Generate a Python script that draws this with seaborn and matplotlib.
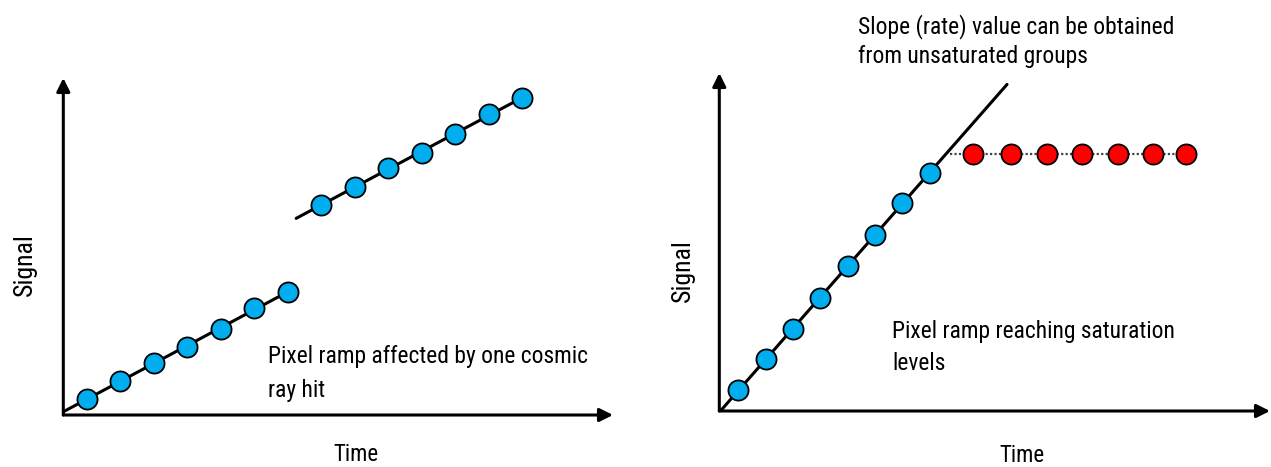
import numpy as np
import pandas as pd
import matplotlib
matplotlib.use('Agg')
import matplotlib.pyplot as plt
from matplotlib import font_manager
import seaborn as sns

# --- data (arbitrary units: time in read groups, signal in counts) ---
# left panel: ramp with a cosmic-ray jump between group 7 and 8
cr_time_before = [1, 2, 3, 4, 5, 6, 7]
cr_signal_before = [16, 34, 52, 68, 86, 107, 123]
cr_time_after = [8, 9, 10, 11, 12, 13, 14]
cr_signal_after = [210, 228, 247, 262, 281, 301, 317]

# right panel: ramp that saturates
sat_time_good = [1, 2, 3, 4, 5, 6, 7, 8]
sat_signal_good = [21, 52, 82, 113, 145, 176, 208, 238]
sat_time_bad = [9.6, 11.0, 12.3, 13.6, 14.9, 16.2, 17.4]
sat_signal_bad = [257, 257, 257, 257, 257, 257, 257]

lines_cr = ['Pixel ramp affected by one cosmic', 'ray hit']
lines_sat = ['Pixel ramp reaching saturation', 'levels']
lines_slope = ['Slope (rate) value can be obtained', 'from unsaturated groups']

BLUE = '#00aeef'
RED = '#ff0000'

sns.set_theme(style='white')

# pick a narrow sans if there is one, the original uses a condensed face
names = sorted({f.name for f in font_manager.fontManager.ttflist})
family, stretch = None, 'normal'
for cand in ['Liberation Sans Narrow', 'Roboto Condensed', 'Open Sans Condensed',
             'Noto Sans Condensed', 'DejaVu Sans Condensed']:
    if cand in names:
        family = cand
        break
if family is None:
    narrow = [n for n in names if ('Condensed' in n or 'Narrow' in n) and 'Mono' not in n
              and 'Serif' not in n and 'CJK' not in n]
    if narrow:
        family = narrow[0]
if family is None:
    cond = [f for f in font_manager.fontManager.ttflist
            if 'condensed' in str(f.stretch).lower() and 'Mono' not in f.name
            and 'Serif' not in f.name and f.weight in (400, 'normal', 'regular')]
    if cond:
        family, stretch = cond[0].name, 'condensed'
if family is None:
    family = 'Roboto'
plt.rcParams['font.family'] = [family, 'DejaVu Sans']
plt.rcParams['font.stretch'] = stretch

W, H = 1271, 467
fig = plt.figure(figsize=(W / 100, H / 100), dpi=100)


def px_axes(x0, y0, x1, y1):
    return fig.add_axes([x0 / W, 1 - y0 / H, (x1 - x0) / W, (y0 - y1) / H])


def fx(px):
    return px / W


def fy(py):
    return 1 - py / H


def draw_arrows(ax):
    for spine in ax.spines.values():
        spine.set_visible(False)
    ax.set_xticks([])
    ax.set_yticks([])
    ax.set_xlabel('')
    ax.set_ylabel('')
    kw = dict(arrowstyle='-|>', lw=2.2, color='black', mutation_scale=20,
              shrinkA=0, shrinkB=0)
    ax.annotate('', xy=(1, 0), xytext=(0, 0), xycoords='axes fraction',
                arrowprops=kw, annotation_clip=False)
    ax.annotate('', xy=(0, 1), xytext=(0, 0), xycoords='axes fraction',
                arrowprops=kw, annotation_clip=False)


def fit_line(t, s, t_from, t_to):
    k, b = np.polyfit(t, s, 1)
    tt = np.array([t_from, t_to])
    return pd.DataFrame({'time': tt, 'signal': k * tt + b})


def dots(ax, t, s, color):
    df = pd.DataFrame({'time': t, 'signal': s})
    sns.scatterplot(data=df, x='time', y='signal', ax=ax, s=210, color=color,
                    edgecolor='black', linewidth=1.3, zorder=5, clip_on=False)


# ---------------- left panel ----------------
ax1 = px_axes(63.3, 415, 613, 78)
ax1.set_xlim(0.3, 0.3 + (613 - 63.3) / 33.5)
ax1.set_ylim(0, 337)

seg = fit_line(cr_time_before, cr_signal_before, 0.3, 7)
sns.lineplot(data=seg, x='time', y='signal', ax=ax1, color='black', lw=2.2, sort=False)
seg = fit_line(cr_time_after, cr_signal_after, 7.25, 14)
sns.lineplot(data=seg, x='time', y='signal', ax=ax1, color='black', lw=2.2, sort=False)
dots(ax1, cr_time_before, cr_signal_before, BLUE)
dots(ax1, cr_time_after, cr_signal_after, BLUE)
draw_arrows(ax1)

# ---------------- right panel ----------------
ax2 = px_axes(719.3, 411, 1270, 73)
ax2.set_xlim(0.3, 0.3 + (1270 - 719.3) / 27.3)
ax2.set_ylim(0, 338)

seg = fit_line(sat_time_good, sat_signal_good, 0.3, 10.84)
sns.lineplot(data=seg, x='time', y='signal', ax=ax2, color='black', lw=2.2, sort=False)
flat = pd.DataFrame({'time': [8.75] + sat_time_bad,
                     'signal': [sat_signal_bad[0]] + sat_signal_bad})
sns.lineplot(data=flat, x='time', y='signal', ax=ax2, color='#444444', lw=1.6,
             linestyle=(0, (1, 1)), sort=False)
dots(ax2, sat_time_good, sat_signal_good, BLUE)
dots(ax2, sat_time_bad, sat_signal_bad, RED)
draw_arrows(ax2)

# ---------------- text ----------------
body = []
# (lines, left x, baselines) in image pixels
for lines, x0, bases in [(lines_cr, 268, [363, 397]),
                         (lines_sat, 892, [338, 370]),
                         (lines_slope, 858, [33, 63])]:
    for ln, yb in zip(lines, bases):
        body.append(fig.text(fx(x0), fy(yb), ln, fontsize=18, color='black',
                             ha='left', va='baseline'))

xlabels = []
for x, y, s in [(356, 461, 'Time'), (1022, 462, 'Time')]:
    xlabels.append(fig.text(fx(x), fy(y), s, fontsize=18, color='black',
                            ha='center', va='baseline'))
ylabels = []
for x, y, s in [(32, 265, 'Signal'), (690, 271, 'Signal')]:
    ylabels.append(fig.text(fx(x), fy(y), s, fontsize=18, color='black', rotation=90,
                            rotation_mode='anchor', ha='center', va='baseline'))

# scale font sizes so widths match the reference text widths
r = fig.canvas.get_renderer()
scale_body = 320 / body[0].get_window_extent(r).width
for t in body:
    t.set_fontsize(t.get_fontsize() * scale_body)
scale_x = 45 / xlabels[0].get_window_extent(r).width
for t in xlabels:
    t.set_fontsize(t.get_fontsize() * scale_x)
scale_y = 63 / ylabels[0].get_window_extent(r).height
for t in ylabels:
    t.set_fontsize(t.get_fontsize() * scale_y)

fig.savefig('out.png', dpi=100)
